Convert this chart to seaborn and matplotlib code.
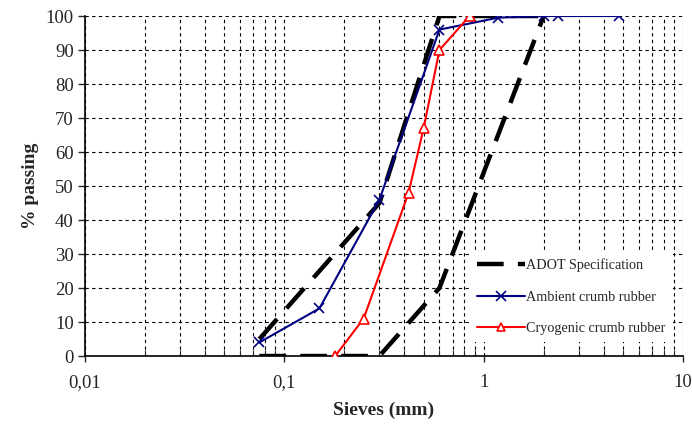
import matplotlib
matplotlib.use("Agg")
import matplotlib.pyplot as plt
import seaborn as sns
import pandas as pd
from matplotlib.lines import Line2D
from matplotlib.ticker import FixedLocator, FixedFormatter, LogLocator, NullFormatter

# Data
ambient_x = [0.075, 0.15, 0.3, 0.6, 1.18, 2.0, 2.36, 4.75]
ambient_y = [4, 14, 46, 96, 99.5, 100, 100, 100]
cryo_x = [0.18, 0.25, 0.42, 0.5, 0.6, 0.85]
cryo_y = [0, 11, 48, 67, 90, 100]
spec_upper_x = [0.075, 0.3, 0.6, 2.0]
spec_upper_y = [5, 45, 100, 100]
spec_lower_x = [0.075, 0.3, 0.6, 2.0]
spec_lower_y = [0, 0, 20, 100]
x_ticks = [0.01, 0.1, 1, 10]
x_ticklabels = ["0,01", "0,1", "1", "10"]
y_ticks = list(range(0, 101, 10))

sns.set_style("white")
plt.rcParams['font.family'] = ['Liberation Serif', 'DejaVu Serif']

fig = plt.figure(figsize=(6.92, 4.26), dpi=100)
ax = fig.add_axes([0.1228, 0.1643, 0.987 - 0.1228, 0.9624 - 0.1643])

ax.set_xscale('log')
ax.set_xlim(0.01, 10)
ax.set_ylim(0, 100)

# grid
ax.xaxis.set_major_locator(FixedLocator(x_ticks))
ax.xaxis.set_major_formatter(FixedFormatter(x_ticklabels))
ax.xaxis.set_minor_locator(LogLocator(base=10, subs=range(2, 10)))
ax.xaxis.set_minor_formatter(NullFormatter())
ax.set_yticks(y_ticks)
ax.grid(True, which='both', axis='x', color='black', linestyle=(0, (3, 3)), linewidth=0.8)
ax.grid(True, which='major', axis='y', color='black', linestyle=(0, (3, 3)), linewidth=0.8)

spec_kw = dict(color='black', linewidth=3.2, dashes=(6, 3.2))
df_up = pd.DataFrame({'x': spec_upper_x, 'y': spec_upper_y})
df_lo = pd.DataFrame({'x': spec_lower_x, 'y': spec_lower_y})
sns.lineplot(data=df_up, x='x', y='y', ax=ax, sort=False, estimator=None, zorder=3, **spec_kw)
sns.lineplot(data=df_lo, x='x', y='y', ax=ax, sort=False, estimator=None, zorder=3, **spec_kw)

df_amb = pd.DataFrame({'x': ambient_x, 'y': ambient_y})
sns.lineplot(data=df_amb, x='x', y='y', ax=ax, sort=False, estimator=None, color='#000080',
             linewidth=1.5, marker='x', markersize=7, markeredgewidth=1.2, markeredgecolor='#000080',
             zorder=4)
df_cry = pd.DataFrame({'x': cryo_x, 'y': cryo_y})
sns.lineplot(data=df_cry, x='x', y='y', ax=ax, sort=False, estimator=None, color='red',
             linewidth=1.5, marker='^', markersize=7, markerfacecolor='white', markeredgecolor='red',
             markeredgewidth=1.2, zorder=4)

for s in ['top', 'right']:
    ax.spines[s].set_visible(False)
for s in ['left', 'bottom']:
    ax.spines[s].set_color('black')
    ax.spines[s].set_linewidth(1.2)

ax.tick_params(axis='x', which='major', direction='out', length=4, width=1, labelsize=13.5, pad=9, bottom=True)
ax.tick_params(axis='x', which='minor', direction='in', length=4, width=0.8, bottom=True)
ax.tick_params(axis='y', which='major', direction='out', length=5, width=1, labelsize=13.5, pad=3, left=True)

ax.set_xlabel('Sieves (mm)', fontsize=14, fontweight='bold', labelpad=8)
ax.set_ylabel('% passing', fontsize=14, fontweight='bold', labelpad=5)

handles = [
    Line2D([], [], color='black', linewidth=3.2, dashes=(6, 3.2)),
    Line2D([], [], color='#000080', linewidth=1.5, marker='x', markersize=7, markeredgewidth=1.2),
    Line2D([], [], color='red', linewidth=1.5, marker='^', markersize=6, markerfacecolor='white',
           markeredgecolor='red', markeredgewidth=1.2),
]
labels = ['ADOT Specification', 'Ambient crumb rubber', 'Cryogenic crumb rubber']
leg = ax.legend(handles, labels, loc='lower right', bbox_to_anchor=(0.995, 0.02), fontsize=10.2,
                frameon=True, facecolor='white', edgecolor='none', framealpha=1, fancybox=False,
                handlelength=3.4, handletextpad=0.1, labelspacing=1.3, borderpad=0.5)
leg.set_zorder(5)

fig.savefig('out.png', dpi=100)
